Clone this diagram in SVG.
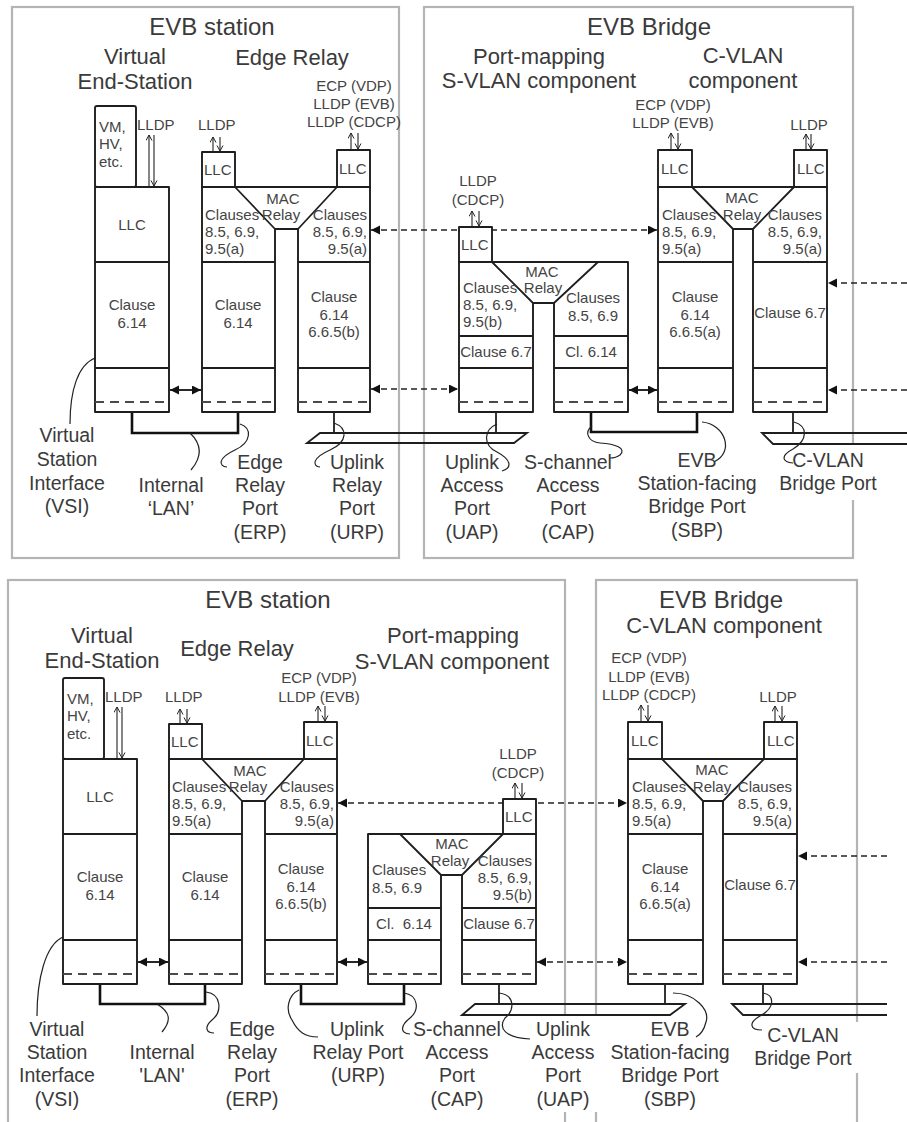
<svg xmlns="http://www.w3.org/2000/svg" width="907" height="1122" viewBox="0 0 907 1122">
<defs>
<style>
.box{fill:#fff;stroke:#1e1e1e;stroke-width:1.9;stroke-linejoin:round}
.ln{fill:none;stroke:#1e1e1e;stroke-width:1.8}
.dsh{fill:none;stroke:#4a4a4a;stroke-width:2;stroke-dasharray:9 6}
.frame{fill:none;stroke:#b4b4b4;stroke-width:2.2}
.lan{fill:none;stroke:#111;stroke-width:2.6}
.lead{fill:none;stroke:#222;stroke-width:1.2}
.arr{fill:none;stroke:#222;stroke-width:1.1}
.darr{fill:none;stroke:#222;stroke-width:1.6;stroke-dasharray:6 4}
.sarr{fill:none;stroke:#111;stroke-width:1.8}
.bg{fill:#fff;stroke:none}
text{font-family:"Liberation Sans",Arial,sans-serif;fill:#3a3a3a}
.t{font-size:24px}
.h{font-size:22px}
.l{font-size:19.5px}
.s{font-size:15px;fill:#444}
.m{text-anchor:middle}
.e{text-anchor:end}
</style>
<marker id="oh" markerUnits="userSpaceOnUse" markerWidth="8" markerHeight="8" refX="6" refY="3.5" orient="auto-start-reverse"><path d="M0.5,0.5 L6,3.5 L0.5,6.5" fill="none" stroke="#222" stroke-width="1"/></marker>
<marker id="fh" markerUnits="userSpaceOnUse" markerWidth="10" markerHeight="10" refX="9" refY="4.5" orient="auto-start-reverse"><path d="M0,0 L9,4.5 L0,9 Z" fill="#111"/></marker>
</defs>
<rect width="907" height="1122" fill="#fff"/>

<g id="frame-evb-station-top">
 <rect class="frame" x="12" y="7" width="387" height="551"/>
 <text class="t m" x="212" y="35">EVB station</text>
 <text class="h m" x="135" y="64">Virtual</text>
 <text class="h m" x="135" y="89">End-Station</text>
 <text class="h m" x="292" y="65">Edge Relay</text>
</g>
<g id="frame-evb-bridge-top">
 <rect class="frame" x="424" y="7" width="429" height="551"/>
 <text class="t m" x="649" y="35">EVB Bridge</text>
 <text class="h m" x="539" y="64">Port-mapping</text>
 <text class="h m" x="539" y="88">S-VLAN component</text>
 <text class="h m" x="743" y="63">C-VLAN</text>
 <text class="h m" x="743" y="88">component</text>
</g>
<g id="frame-evb-station-bottom">
 <rect class="frame" x="8" y="580" width="557" height="560"/>
 <text class="t m" x="268" y="608">EVB station</text>
 <text class="h m" x="102" y="643">Virtual</text>
 <text class="h m" x="102" y="668">End-Station</text>
 <text class="h m" x="237" y="656">Edge Relay</text>
 <text class="h m" x="453" y="643">Port-mapping</text>
 <text class="h m" x="452" y="669">S-VLAN component</text>
</g>
<g id="frame-evb-bridge-bottom">
 <rect class="frame" x="596" y="580" width="261" height="560"/>
 <text class="t m" x="721" y="608">EVB Bridge</text>
 <text class="h m" x="724" y="633">C-VLAN component</text>
</g>

<g id="label-backgrounds">
 <rect class="bg" x="775" y="445" width="105" height="55"/>
 <rect class="bg" x="522" y="1016" width="80" height="96"/>
 <rect class="bg" x="750" y="1022" width="112" height="51"/>
</g>

<g id="connectors">
 <polyline class="lan" points="132,412 132,433 238,433 238,412"/>
 <line class="sarr" x1="170" y1="390" x2="201" y2="390" marker-start="url(#fh)" marker-end="url(#fh)"/>
 <line class="darr" x1="371" y1="389" x2="458" y2="389" marker-start="url(#fh)" marker-end="url(#fh)"/>
 <line class="darr" x1="371" y1="230" x2="657" y2="230" marker-start="url(#fh)" marker-end="url(#fh)"/>
 <line class="ln" x1="334" y1="412" x2="334" y2="433"/>
 <line class="ln" x1="496" y1="412" x2="496" y2="433"/>
 <polygon class="ln" points="320,433 527,433 514,443 307,443"/>
 <polyline class="lan" points="591,412 591,432 697,432 697,412"/>
 <line class="sarr" x1="629" y1="390" x2="657" y2="390" marker-start="url(#fh)" marker-end="url(#fh)"/>
 <line class="ln" x1="793" y1="412" x2="793" y2="433"/>
 <path class="ln" d="M907,433H762L773,444H907"/>
 <line class="darr" x1="907" y1="283" x2="828" y2="283" marker-end="url(#fh)"/>
 <line class="darr" x1="907" y1="390" x2="828" y2="390" marker-end="url(#fh)"/>

 <polyline class="lan" points="100,984 100,1004 205,1004 205,984"/>
 <line class="sarr" x1="138" y1="962" x2="168" y2="962" marker-start="url(#fh)" marker-end="url(#fh)"/>
 <polyline class="lan" points="301,984 301,1004 404,1004 404,984"/>
 <line class="sarr" x1="338" y1="962" x2="367" y2="962" marker-start="url(#fh)" marker-end="url(#fh)"/>
 <line class="ln" x1="499" y1="984" x2="499" y2="1004"/>
 <polygon class="ln" points="475,1004 685,1004 670,1015 462,1015"/>
 <line class="darr" x1="537" y1="962" x2="627" y2="962" marker-start="url(#fh)" marker-end="url(#fh)"/>
 <line class="ln" x1="665" y1="984" x2="665" y2="1004"/>
 <line class="darr" x1="338" y1="803" x2="627" y2="803" marker-start="url(#fh)" marker-end="url(#fh)"/>
 <line class="ln" x1="763" y1="984" x2="763" y2="1004"/>
 <path class="ln" d="M887,1004H732L743,1015H887"/>
 <line class="darr" x1="887" y1="856" x2="798" y2="856" marker-end="url(#fh)"/>
 <line class="darr" x1="887" y1="962" x2="798" y2="962" marker-end="url(#fh)"/>
</g>

<g id="ves-top">
 <rect class="box" x="95" y="106" width="41" height="81" rx="2"/>
 <rect class="box" x="95" y="187" width="74" height="225"/>
 <path class="ln" d="M95,262H169M95,368H169"/>
 <path class="dsh" d="M95,402H169"/>
 <text class="s" x="99" y="132">VM,</text>
 <text class="s" x="99" y="149">HV,</text>
 <text class="s" x="99" y="167">etc.</text>
 <text class="s m" x="132" y="230">LLC</text>
 <text class="s m" x="132" y="310">Clause</text>
 <text class="s m" x="132" y="328">6.14</text>
 <text class="s" x="137" y="130">LLDP</text>
 <line class="arr" x1="149" y1="187" x2="149" y2="135" marker-end="url(#oh)"/>
 <line class="arr" x1="154" y1="135" x2="154" y2="186" marker-end="url(#oh)"/>
</g>

<g id="edge-relay-top">
 <path class="box" d="M202,412V187H370V412H298V229H275V412Z"/>
 <path class="ln" d="M235,187L275,229M337,187L298,229M202,262H275M298,262H370M202,368H275M298,368H370"/>
 <path class="dsh" d="M202,402H275M298,402H370"/>
 <rect class="box" x="202" y="152" width="33" height="35"/>
 <rect class="box" x="337" y="150" width="33" height="37"/>
 <text class="s" x="204" y="175">LLC</text>
 <text class="s" x="339" y="174">LLC</text>
 <text class="s m" x="283" y="204">MAC</text>
 <text class="s m" x="281" y="220">Relay</text>
 <text class="s" x="205" y="220">Clauses</text>
 <text class="s" x="205" y="237">8.5, 6.9,</text>
 <text class="s" x="205" y="254">9.5(a)</text>
 <text class="s e" x="367" y="220">Clauses</text>
 <text class="s e" x="367" y="237">8.5, 6.9,</text>
 <text class="s e" x="367" y="254">9.5(a)</text>
 <text class="s m" x="238" y="310">Clause</text>
 <text class="s m" x="238" y="328">6.14</text>
 <text class="s m" x="334" y="302">Clause</text>
 <text class="s m" x="334" y="320">6.14</text>
 <text class="s m" x="334" y="337">6.6.5(b)</text>
 <text class="s" x="198" y="130">LLDP</text>
 <line class="arr" x1="213" y1="152" x2="213" y2="137" marker-end="url(#oh)"/>
 <line class="arr" x1="220" y1="137" x2="220" y2="151" marker-end="url(#oh)"/>
 <text class="s m" x="354" y="91">ECP (VDP)</text>
 <text class="s m" x="354" y="109">LLDP (EVB)</text>
 <text class="s m" x="354" y="127">LLDP (CDCP)</text>
 <line class="arr" x1="351" y1="150" x2="351" y2="133" marker-end="url(#oh)"/>
 <line class="arr" x1="358" y1="133" x2="358" y2="149" marker-end="url(#oh)"/>
</g>

<g id="svlan-top">
 <path class="box" d="M459,412V262H628V412H554V303H533V412Z"/>
 <path class="ln" d="M492,262L533,303M598,262L554,303M459,336H533M554,336H628M459,368H533M554,368H628"/>
 <path class="dsh" d="M459,402H533M554,402H628"/>
 <rect class="box" x="459" y="227" width="33" height="35"/>
 <text class="s" x="461" y="250">LLC</text>
 <text class="s m" x="478" y="186">LLDP</text>
 <text class="s m" x="478" y="205">(CDCP)</text>
 <line class="arr" x1="472" y1="227" x2="472" y2="211" marker-end="url(#oh)"/>
 <line class="arr" x1="479" y1="211" x2="479" y2="226" marker-end="url(#oh)"/>
 <text class="s m" x="542" y="277">MAC</text>
 <text class="s m" x="543" y="293">Relay</text>
 <text class="s" x="463" y="293">Clauses</text>
 <text class="s" x="463" y="310">8.5, 6.9,</text>
 <text class="s" x="463" y="327">9.5(b)</text>
 <text class="s m" x="496" y="357">Clause 6.7</text>
 <text class="s m" x="593" y="303">Clauses</text>
 <text class="s m" x="593" y="321">8.5, 6.9</text>
 <text class="s m" x="591" y="357">Cl. 6.14</text>
</g>

<g id="cvlan-top">
 <path class="box" d="M658,412V187H827V412H753V229H733V412Z"/>
 <path class="ln" d="M692,187L733,229M794,187L753,229M658,262H733M753,262H827M658,368H733M753,368H827"/>
 <path class="dsh" d="M658,402H733M753,402H827"/>
 <rect class="box" x="658" y="150" width="34" height="37"/>
 <rect class="box" x="794" y="150" width="33" height="37"/>
 <text class="s" x="661" y="174">LLC</text>
 <text class="s" x="797" y="174">LLC</text>
 <text class="s m" x="742" y="203">MAC</text>
 <text class="s m" x="742" y="220">Relay</text>
 <text class="s" x="662" y="220">Clauses</text>
 <text class="s" x="662" y="237">8.5, 6.9,</text>
 <text class="s" x="662" y="254">9.5(a)</text>
 <text class="s e" x="822" y="220">Clauses</text>
 <text class="s e" x="822" y="237">8.5, 6.9,</text>
 <text class="s e" x="822" y="254">9.5(a)</text>
 <text class="s m" x="695" y="302">Clause</text>
 <text class="s m" x="695" y="320">6.14</text>
 <text class="s m" x="695" y="337">6.6.5(a)</text>
 <text class="s m" x="790" y="318">Clause 6.7</text>
 <text class="s m" x="673" y="110">ECP (VDP)</text>
 <text class="s m" x="673" y="128">LLDP (EVB)</text>
 <line class="arr" x1="671" y1="150" x2="671" y2="133" marker-end="url(#oh)"/>
 <line class="arr" x1="678" y1="133" x2="678" y2="149" marker-end="url(#oh)"/>
 <text class="s m" x="809" y="130">LLDP</text>
 <line class="arr" x1="806" y1="150" x2="806" y2="134" marker-end="url(#oh)"/>
 <line class="arr" x1="811" y1="134" x2="811" y2="149" marker-end="url(#oh)"/>
</g>

<g id="ves-bottom" transform="translate(-32,572)">
 <rect class="box" x="95" y="106" width="41" height="81" rx="2"/>
 <rect class="box" x="95" y="187" width="74" height="225"/>
 <path class="ln" d="M95,262H169M95,368H169"/>
 <path class="dsh" d="M95,402H169"/>
 <text class="s" x="99" y="132">VM,</text>
 <text class="s" x="99" y="149">HV,</text>
 <text class="s" x="99" y="167">etc.</text>
 <text class="s m" x="132" y="230">LLC</text>
 <text class="s m" x="132" y="310">Clause</text>
 <text class="s m" x="132" y="328">6.14</text>
 <text class="s" x="137" y="130">LLDP</text>
 <line class="arr" x1="149" y1="187" x2="149" y2="135" marker-end="url(#oh)"/>
 <line class="arr" x1="154" y1="135" x2="154" y2="186" marker-end="url(#oh)"/>
</g>

<g id="edge-relay-bottom" transform="translate(-33,572)">
 <path class="box" d="M202,412V187H370V412H298V229H275V412Z"/>
 <path class="ln" d="M235,187L275,229M337,187L298,229M202,262H275M298,262H370M202,368H275M298,368H370"/>
 <path class="dsh" d="M202,402H275M298,402H370"/>
 <rect class="box" x="202" y="152" width="33" height="35"/>
 <rect class="box" x="337" y="150" width="33" height="37"/>
 <text class="s" x="204" y="175">LLC</text>
 <text class="s" x="339" y="174">LLC</text>
 <text class="s m" x="283" y="204">MAC</text>
 <text class="s m" x="281" y="220">Relay</text>
 <text class="s" x="205" y="220">Clauses</text>
 <text class="s" x="205" y="237">8.5, 6.9,</text>
 <text class="s" x="205" y="254">9.5(a)</text>
 <text class="s e" x="367" y="220">Clauses</text>
 <text class="s e" x="367" y="237">8.5, 6.9,</text>
 <text class="s e" x="367" y="254">9.5(a)</text>
 <text class="s m" x="238" y="310">Clause</text>
 <text class="s m" x="238" y="328">6.14</text>
 <text class="s m" x="334" y="302">Clause</text>
 <text class="s m" x="334" y="320">6.14</text>
 <text class="s m" x="334" y="337">6.6.5(b)</text>
 <text class="s" x="198" y="130">LLDP</text>
 <line class="arr" x1="213" y1="152" x2="213" y2="137" marker-end="url(#oh)"/>
 <line class="arr" x1="220" y1="137" x2="220" y2="151" marker-end="url(#oh)"/>
 <text class="s m" x="352" y="111">ECP (VDP)</text>
 <text class="s m" x="352" y="130">LLDP (EVB)</text>
 <line class="arr" x1="351" y1="150" x2="351" y2="134" marker-end="url(#oh)"/>
 <line class="arr" x1="358" y1="134" x2="358" y2="149" marker-end="url(#oh)"/>
</g>

<g id="svlan-bottom">
 <path class="box" d="M368,984V834H536V984H462V875H441V984Z"/>
 <path class="ln" d="M400,834L441,875M503,834L462,875M368,908H441M462,908H536M368,940H441M462,940H536"/>
 <path class="dsh" d="M368,974H441M462,974H536"/>
 <rect class="box" x="503" y="799" width="33" height="35"/>
 <text class="s" x="505" y="822">LLC</text>
 <text class="s m" x="518" y="759">LLDP</text>
 <text class="s m" x="518" y="778">(CDCP)</text>
 <line class="arr" x1="515" y1="799" x2="515" y2="783" marker-end="url(#oh)"/>
 <line class="arr" x1="522" y1="783" x2="522" y2="798" marker-end="url(#oh)"/>
 <text class="s m" x="452" y="849">MAC</text>
 <text class="s m" x="450" y="866">Relay</text>
 <text class="s" x="372" y="875">Clauses</text>
 <text class="s" x="372" y="893">8.5, 6.9</text>
 <text class="s e" x="532" y="866">Clauses</text>
 <text class="s e" x="532" y="883">8.5, 6.9,</text>
 <text class="s e" x="532" y="900">9.5(b)</text>
 <text class="s m" x="404" y="929">Cl.&#160; 6.14</text>
 <text class="s m" x="499" y="929">Clause 6.7</text>
</g>

<g id="cvlan-bottom" transform="translate(-30,572)">
 <path class="box" d="M658,412V187H827V412H753V229H733V412Z"/>
 <path class="ln" d="M692,187L733,229M794,187L753,229M658,262H733M753,262H827M658,368H733M753,368H827"/>
 <path class="dsh" d="M658,402H733M753,402H827"/>
 <rect class="box" x="658" y="150" width="34" height="37"/>
 <rect class="box" x="794" y="150" width="33" height="37"/>
 <text class="s" x="661" y="174">LLC</text>
 <text class="s" x="797" y="174">LLC</text>
 <text class="s m" x="742" y="203">MAC</text>
 <text class="s m" x="742" y="220">Relay</text>
 <text class="s" x="662" y="220">Clauses</text>
 <text class="s" x="662" y="237">8.5, 6.9,</text>
 <text class="s" x="662" y="254">9.5(a)</text>
 <text class="s e" x="822" y="220">Clauses</text>
 <text class="s e" x="822" y="237">8.5, 6.9,</text>
 <text class="s e" x="822" y="254">9.5(a)</text>
 <text class="s m" x="695" y="302">Clause</text>
 <text class="s m" x="695" y="320">6.14</text>
 <text class="s m" x="695" y="337">6.6.5(a)</text>
 <text class="s m" x="790" y="318">Clause 6.7</text>
 <text class="s m" x="679" y="91">ECP (VDP)</text>
 <text class="s m" x="679" y="110">LLDP (EVB)</text>
 <text class="s m" x="679" y="128">LLDP (CDCP)</text>
 <line class="arr" x1="671" y1="150" x2="671" y2="133" marker-end="url(#oh)"/>
 <line class="arr" x1="678" y1="133" x2="678" y2="149" marker-end="url(#oh)"/>
 <text class="s m" x="808" y="130">LLDP</text>
 <line class="arr" x1="805" y1="150" x2="805" y2="134" marker-end="url(#oh)"/>
 <line class="arr" x1="812" y1="134" x2="812" y2="149" marker-end="url(#oh)"/>
</g>

<g id="label-vsi-top">
 <path class="lead" d="M70,424C70,390 78,365 95,358"/>
 <text class="l m" x="67" y="442">Virtual</text>
 <text class="l m" x="67" y="466">Station</text>
 <text class="l m" x="67" y="490">Interface</text>
 <text class="l m" x="67" y="513">(VSI)</text>
</g>
<g id="label-lan-top">
 <path class="lead" d="M191,470Q208,450 190,433"/>
 <text class="l m" x="171" y="492">Internal</text>
 <text class="l m" x="171" y="515">‘LAN’</text>
</g>
<g id="label-erp-top">
 <path class="lead" d="M240,424C252,428 252,442 235,450C218,458 218,466 227,467"/>
 <text class="l m" x="260" y="469">Edge</text>
 <text class="l m" x="260" y="492">Relay</text>
 <text class="l m" x="260" y="515">Port</text>
 <text class="l m" x="260" y="539">(ERP)</text>
</g>
<g id="label-urp-top">
 <path class="lead" d="M334,423C348,428 348,442 330,450C312,458 312,466 320,467"/>
 <text class="l m" x="357" y="469">Uplink</text>
 <text class="l m" x="357" y="492">Relay</text>
 <text class="l m" x="357" y="515">Port</text>
 <text class="l m" x="357" y="539">(URP)</text>
</g>
<g id="label-uap-top">
 <path class="lead" d="M497,424C483,430 483,445 497,452C512,460 512,468 502,471"/>
 <text class="l m" x="472" y="469">Uplink</text>
 <text class="l m" x="472" y="492">Access</text>
 <text class="l m" x="472" y="515">Port</text>
 <text class="l m" x="472" y="539">(UAP)</text>
</g>
<g id="label-cap-top">
 <path class="lead" d="M592,426C584,432 588,442 600,443C615,444 627,448 620,455C616,458 612,458 610,458"/>
 <text class="l m" x="568" y="469">S-channel</text>
 <text class="l m" x="568" y="492">Access</text>
 <text class="l m" x="568" y="515">Port</text>
 <text class="l m" x="568" y="539">(CAP)</text>
</g>
<g id="label-sbp-top">
 <path class="lead" d="M702,422C725,424 735,452 714,462"/>
 <text class="l m" x="697" y="467">EVB</text>
 <text class="l m" x="697" y="490">Station-facing</text>
 <text class="l m" x="697" y="513">Bridge Port</text>
 <text class="l m" x="697" y="537">(SBP)</text>
</g>
<g id="label-cvlan-top">
 <path class="lead" d="M794,422C808,426 808,440 793,449C780,456 782,462 793,463"/>
 <text class="l m" x="828" y="467">C-VLAN</text>
 <text class="l m" x="828" y="490">Bridge Port</text>
</g>

<g id="label-vsi-bottom">
 <path class="lead" d="M37,1016C37,980 45,945 63,937"/>
 <text class="l m" x="57" y="1036">Virtual</text>
 <text class="l m" x="57" y="1059">Station</text>
 <text class="l m" x="57" y="1082">Interface</text>
 <text class="l m" x="57" y="1106">(VSI)</text>
</g>
<g id="label-lan-bottom">
 <path class="lead" d="M157,1004C170,1012 172,1020 162,1032"/>
 <text class="l m" x="162" y="1059">Internal</text>
 <text class="l m" x="162" y="1082">'LAN'</text>
</g>
<g id="label-erp-bottom">
 <path class="lead" d="M206,992C222,994 222,1012 212,1020C204,1027 206,1033 214,1033"/>
 <text class="l m" x="252" y="1036">Edge</text>
 <text class="l m" x="252" y="1059">Relay</text>
 <text class="l m" x="252" y="1082">Port</text>
 <text class="l m" x="252" y="1106">(ERP)</text>
</g>
<g id="label-urp-bottom">
 <path class="lead" d="M299,990C288,995 285,1010 292,1020C298,1032 305,1037 318,1037"/>
 <text class="l m" x="357" y="1036">Uplink</text>
 <text class="l m" x="358" y="1059">Relay Port</text>
 <text class="l m" x="358" y="1082">(URP)</text>
</g>
<g id="label-cap-bottom">
 <path class="lead" d="M404,993C418,995 420,1010 410,1018C400,1026 400,1033 410,1034"/>
 <text class="l m" x="457" y="1036">S-channel</text>
 <text class="l m" x="457" y="1059">Access</text>
 <text class="l m" x="457" y="1082">Port</text>
 <text class="l m" x="457" y="1106">(CAP)</text>
</g>
<g id="label-uap-bottom">
 <path class="lead" d="M499,993C515,995 515,1010 505,1018C498,1028 505,1038 530,1039"/>
 <text class="l m" x="563" y="1036">Uplink</text>
 <text class="l m" x="563" y="1059">Access</text>
 <text class="l m" x="563" y="1082">Port</text>
 <text class="l m" x="563" y="1106">(UAP)</text>
</g>
<g id="label-sbp-bottom">
 <path class="lead" d="M673,993C695,993 710,1010 706,1022C704,1030 700,1035 696,1037"/>
 <text class="l m" x="670" y="1036">EVB</text>
 <text class="l m" x="670" y="1059">Station-facing</text>
 <text class="l m" x="670" y="1082">Bridge Port</text>
 <text class="l m" x="670" y="1106">(SBP)</text>
</g>
<g id="label-cvlan-bottom">
 <path class="lead" d="M763,993C775,995 775,1008 760,1016C748,1023 750,1030 762,1030"/>
 <text class="l m" x="803" y="1042">C-VLAN</text>
 <text class="l m" x="803" y="1065">Bridge Port</text>
</g>
</svg>
